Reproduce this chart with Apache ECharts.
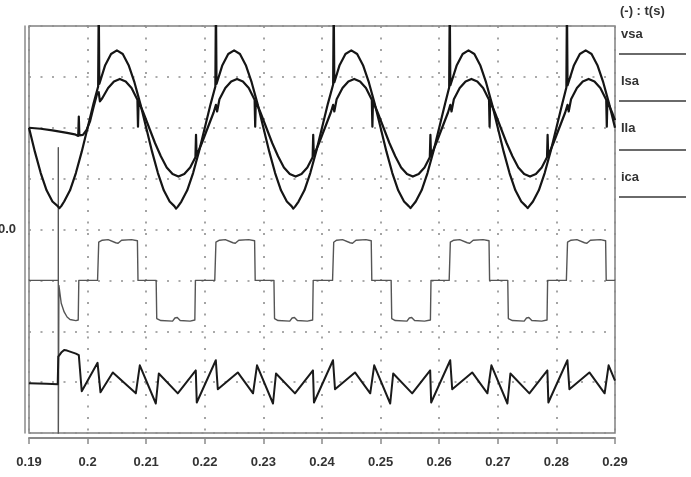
<!DOCTYPE html>
<html>
<head>
<meta charset="utf-8">
<script src="https://cdn.jsdelivr.net/npm/echarts@6/dist/echarts.min.js"></script>
<style>
html,body{margin:0;padding:0;background:#fff;}
#chart{width:691px;height:477px;}
</style>
</head>
<body>
<div id="chart"></div>
<script>
// x-axis tick labels (s)
const xTicks = [0.19, 0.20, 0.21, 0.22, 0.23, 0.24, 0.25, 0.26, 0.27, 0.28, 0.29];
const legendNames = ['vsa', 'Isa', 'Ila', 'ica'];

// vsa : supply voltage (offset trace, [t, value])
const vsa = [
[0.190,2.00],[0.191,1.53],[0.192,1.11],[0.193,0.77],[0.194,0.55],[0.1948,0.47],[0.1952,0.42],[0.1955,0.46],[0.196,0.55],[0.197,0.77],[0.198,1.11],[0.199,1.53],
[0.200,2.00],[0.201,2.47],[0.2018,2.81],[0.2019,4.5],[0.2020,2.86],[0.203,3.23],[0.204,3.45],[0.205,3.52],[0.206,3.45],[0.207,3.23],[0.208,2.89],[0.209,2.47],
[0.210,2.00],[0.211,1.53],[0.212,1.11],[0.213,0.77],[0.214,0.55],[0.2148,0.46],[0.2151,0.41],[0.2154,0.45],[0.216,0.55],[0.217,0.77],[0.218,1.11],[0.219,1.53],
[0.220,2.00],[0.221,2.47],[0.2218,2.81],[0.2219,4.5],[0.2220,2.86],[0.223,3.23],[0.224,3.45],[0.225,3.52],[0.226,3.45],[0.227,3.23],[0.228,2.89],[0.229,2.47],
[0.230,2.00],[0.231,1.53],[0.232,1.11],[0.233,0.77],[0.234,0.55],[0.2348,0.46],[0.2351,0.41],[0.2354,0.45],[0.236,0.55],[0.237,0.77],[0.238,1.11],[0.239,1.53],
[0.240,2.00],[0.241,2.47],[0.2419,2.85],[0.2420,4.5],[0.2421,2.89],[0.243,3.23],[0.244,3.45],[0.245,3.52],[0.246,3.45],[0.247,3.23],[0.248,2.89],[0.249,2.47],
[0.250,2.00],[0.251,1.53],[0.252,1.11],[0.253,0.77],[0.254,0.55],[0.2548,0.46],[0.2551,0.42],[0.2554,0.45],[0.256,0.55],[0.257,0.77],[0.258,1.11],[0.259,1.53],
[0.260,2.00],[0.261,2.47],[0.2617,2.79],[0.2618,4.5],[0.2619,2.83],[0.263,3.23],[0.264,3.45],[0.265,3.52],[0.266,3.45],[0.267,3.23],[0.268,2.89],[0.269,2.47],
[0.270,2.00],[0.271,1.53],[0.272,1.11],[0.273,0.77],[0.274,0.55],[0.2748,0.46],[0.2751,0.42],[0.2754,0.45],[0.276,0.55],[0.277,0.77],[0.278,1.11],[0.279,1.53],
[0.280,2.00],[0.281,2.47],[0.2817,2.79],[0.2818,4.5],[0.2819,2.83],[0.283,3.23],[0.284,3.45],[0.285,3.52],[0.286,3.45],[0.287,3.23],[0.288,2.89],[0.289,2.47],
[0.290,2.00]
];

// Isa : source current (offset trace)
const isa = [
[0.190,2.00],[0.192,1.98],[0.194,1.95],[0.195,1.93],[0.1965,1.90],[0.1978,1.87],[0.1984,1.84],[0.1985,2.22],[0.1986,1.85],[0.1992,1.86],[0.1998,1.95],[0.2004,2.12],
[0.201,2.40],[0.2016,2.66],[0.2019,2.70],[0.2021,2.52],[0.2025,2.58],[0.2035,2.78],[0.2045,2.91],[0.2055,2.96],[0.2065,2.91],[0.2075,2.78],[0.2085,2.55],[0.2086,2.02],[0.2087,2.52],
[0.2095,2.30],[0.2105,2.00],[0.2115,1.70],[0.2125,1.44],[0.2135,1.22],[0.2145,1.09],[0.2155,1.04],[0.2165,1.09],[0.2175,1.22],[0.2184,1.42],[0.2185,1.86],[0.2186,1.45],
[0.2195,1.70],[0.2205,2.00],[0.2215,2.30],[0.2219,2.45],[0.2221,2.32],[0.2225,2.56],[0.2235,2.78],[0.2245,2.91],[0.2255,2.96],[0.2265,2.91],[0.2275,2.78],[0.2285,2.55],[0.2286,2.02],[0.2287,2.52],
[0.2295,2.30],[0.2305,2.00],[0.2315,1.70],[0.2325,1.44],[0.2335,1.22],[0.2345,1.09],[0.2355,1.04],[0.2365,1.09],[0.2375,1.22],[0.2384,1.42],[0.2385,1.86],[0.2386,1.45],
[0.2395,1.70],[0.2405,2.00],[0.2415,2.30],[0.2419,2.45],[0.2421,2.32],[0.2425,2.56],[0.2435,2.78],[0.2445,2.91],[0.2455,2.96],[0.2465,2.91],[0.2475,2.78],[0.2485,2.55],[0.2486,2.02],[0.2487,2.52],
[0.2495,2.30],[0.2505,2.00],[0.2515,1.70],[0.2525,1.44],[0.2535,1.22],[0.2545,1.09],[0.2555,1.04],[0.2565,1.09],[0.2575,1.22],[0.2584,1.42],[0.2585,1.86],[0.2586,1.45],
[0.2595,1.70],[0.2605,2.00],[0.2615,2.30],[0.2619,2.45],[0.2621,2.32],[0.2625,2.56],[0.2635,2.78],[0.2645,2.91],[0.2655,2.96],[0.2665,2.91],[0.2675,2.78],[0.2685,2.55],[0.2686,2.02],[0.2687,2.52],
[0.2695,2.30],[0.2705,2.00],[0.2715,1.70],[0.2725,1.44],[0.2735,1.22],[0.2745,1.09],[0.2755,1.04],[0.2765,1.09],[0.2775,1.22],[0.2784,1.42],[0.2785,1.86],[0.2786,1.45],
[0.2795,1.70],[0.2805,2.00],[0.2815,2.30],[0.2819,2.45],[0.2821,2.32],[0.2825,2.56],[0.2835,2.78],[0.2845,2.91],[0.2855,2.96],[0.2865,2.91],[0.2875,2.78],[0.2885,2.55],[0.2886,2.02],[0.2887,2.52],
[0.2895,2.30],[0.290,2.15]
];

// Ila : load current (offset trace)
const ila = [
[0.190,-1.00],[0.195,-1.00],[0.1950,1.61],[0.1950,-4.3],[0.1951,-1.10],[0.1955,-1.45],[0.196,-1.62],[0.1965,-1.72],[0.197,-1.77],[0.198,-1.79],[0.1984,-1.78],[0.1985,-1.00],
[0.2017,-1.00],[0.2019,-0.25],[0.2025,-0.21],[0.2035,-0.20],[0.2048,-0.26],[0.2052,-0.27],[0.2058,-0.21],[0.2075,-0.20],[0.2085,-0.22],[0.2086,-1.00],
[0.2117,-1.00],[0.2118,-1.75],[0.2125,-1.79],[0.2145,-1.80],[0.2149,-1.74],[0.2153,-1.73],[0.2158,-1.79],[0.2175,-1.80],[0.2183,-1.78],[0.2184,-1.00],
[0.2217,-1.00],[0.2219,-0.25],[0.2225,-0.21],[0.2235,-0.20],[0.2248,-0.26],[0.2252,-0.27],[0.2258,-0.21],[0.2275,-0.20],[0.2285,-0.22],[0.2286,-1.00],
[0.2318,-1.00],[0.2319,-1.75],[0.2325,-1.79],[0.2345,-1.80],[0.2349,-1.74],[0.2353,-1.73],[0.2358,-1.79],[0.2375,-1.80],[0.2384,-1.78],[0.2385,-1.00],
[0.2418,-1.00],[0.2420,-0.25],[0.2425,-0.21],[0.2435,-0.20],[0.2448,-0.26],[0.2452,-0.27],[0.2458,-0.21],[0.2475,-0.20],[0.2484,-0.22],[0.2485,-1.00],
[0.2518,-1.00],[0.2519,-1.75],[0.2525,-1.79],[0.2545,-1.80],[0.2549,-1.74],[0.2553,-1.73],[0.2558,-1.79],[0.2575,-1.80],[0.2585,-1.78],[0.2586,-1.00],
[0.2617,-1.00],[0.2619,-0.25],[0.2625,-0.21],[0.2635,-0.20],[0.2648,-0.26],[0.2652,-0.27],[0.2658,-0.21],[0.2675,-0.20],[0.2685,-0.22],[0.2686,-1.00],
[0.2717,-1.00],[0.2718,-1.75],[0.2725,-1.79],[0.2745,-1.80],[0.2749,-1.74],[0.2753,-1.73],[0.2758,-1.79],[0.2775,-1.80],[0.2784,-1.78],[0.2785,-1.00],
[0.2817,-1.00],[0.2819,-0.25],[0.2825,-0.21],[0.2835,-0.20],[0.2848,-0.26],[0.2852,-0.27],[0.2858,-0.21],[0.2875,-0.20],[0.2884,-0.22],[0.2885,-1.00],
[0.290,-1.00]
];

// ica : compensator current (offset trace)
const ica = [
[0.190,-3.02],[0.193,-3.03],[0.1949,-3.04],[0.1950,-2.50],[0.1955,-2.42],[0.196,-2.37],[0.1965,-2.38],[0.197,-2.40],[0.198,-2.44],[0.1985,-2.47],[0.1990,-3.18],
[0.2017,-2.62],[0.2022,-3.20],[0.2043,-2.81],[0.20823,-3.22],[0.20891,-2.67],[0.21164,-3.42],[0.21215,-2.83],[0.21539,-3.22],[0.21846,-2.77],[0.21863,-3.40],[0.22188,-2.57],[0.22222,-3.14],[0.22563,-2.81],
[0.22823,-3.22],[0.22891,-2.67],[0.23164,-3.42],[0.23215,-2.83],[0.23539,-3.22],[0.23846,-2.77],[0.23863,-3.40],[0.24188,-2.57],[0.24222,-3.14],[0.24563,-2.81],
[0.24823,-3.22],[0.24891,-2.67],[0.25164,-3.42],[0.25215,-2.83],[0.25539,-3.22],[0.25846,-2.77],[0.25863,-3.40],[0.26188,-2.57],[0.26222,-3.14],[0.26563,-2.81],
[0.26823,-3.22],[0.26891,-2.67],[0.27164,-3.42],[0.27215,-2.83],[0.27539,-3.22],[0.27846,-2.77],[0.27863,-3.40],[0.28188,-2.57],[0.28222,-3.14],[0.28563,-2.81],
[0.28823,-3.22],[0.28891,-2.67],[0.290,-2.97]
];

const chart = echarts.init(document.getElementById('chart'), null, {renderer: 'canvas'});
const FONT = '"Liberation Sans", Arial, sans-serif';
const gridDots = {color: '#8e8e8e', width: 1.6, type: [2, 9.5]};

function line(name, data, color, width, z) {
  return {
    name: name, type: 'line', data: data, showSymbol: false, symbol: 'none',
    clip: true, animation: false, z: z,
    lineStyle: {color: color, width: width, join: 'round'}
  };
}

const legendY = [36, 83, 130, 179];
const legendLineY = [54, 101, 150, 197];
const graphics = [{
  type: 'text', left: 620, top: 5,
  style: {text: '(-) : t(s)', font: 'bold 13px ' + FONT, fill: '#333'}
}];
legendNames.forEach((n, i) => {
  graphics.push({type: 'text', left: 621, top: legendY[i] - 8,
    style: {text: n, font: 'bold 13px ' + FONT, fill: '#333'}});
  graphics.push({type: 'line', shape: {x1: 619, y1: legendLineY[i], x2: 686, y2: legendLineY[i]},
    style: {stroke: '#6a6a6a', lineWidth: 2}});
});

chart.setOption({
  backgroundColor: '#fff',
  animation: false,
  grid: {left: 29, top: 26, width: 586, height: 407, show: true, containLabel: false,
    outerBoundsMode: 'none',
    borderColor: '#808080', borderWidth: 1.5, backgroundColor: 'transparent'},
  xAxis: {
    type: 'value', min: xTicks[0], max: xTicks[xTicks.length - 1], interval: 0.01,
    offset: 5,
    name: 't(s)', nameLocation: 'middle', nameGap: 42,
    nameTextStyle: {color: '#444', fontFamily: FONT, fontWeight: 'bold', fontSize: 13},
    axisLine: {show: true, onZero: false, lineStyle: {color: '#8a8a8a', width: 2}},
    axisTick: {show: true, length: 6, lineStyle: {color: '#8a8a8a', width: 1.5}},
    axisLabel: {margin: 18, color: '#333', fontFamily: FONT, fontWeight: 'bold', fontSize: 13,
      formatter: v => String(+v.toFixed(2))},
    splitLine: {show: true, lineStyle: gridDots}
  },
  yAxis: {
    type: 'value', min: -4, max: 4, interval: 1,
    offset: 4,
    axisLine: {show: true, onZero: false, lineStyle: {color: '#8a8a8a', width: 1.5}},
    axisTick: {show: false},
    axisLabel: {margin: 9, color: '#333', fontFamily: FONT, fontWeight: 'bold', fontSize: 13,
      formatter: v => (Math.abs(v) < 1e-9 ? '0.0' : '')},
    splitLine: {show: true, lineStyle: gridDots}
  },
  graphic: graphics,
  series: [
    line('Ila', ila, '#555555', 1.4, 2),
    line('ica', ica, '#1a1a1a', 2.0, 3),
    line('vsa', vsa, '#151515', 2.2, 4),
    line('Isa', isa, '#151515', 2.2, 5)
  ]
});
</script>
</body>
</html>
